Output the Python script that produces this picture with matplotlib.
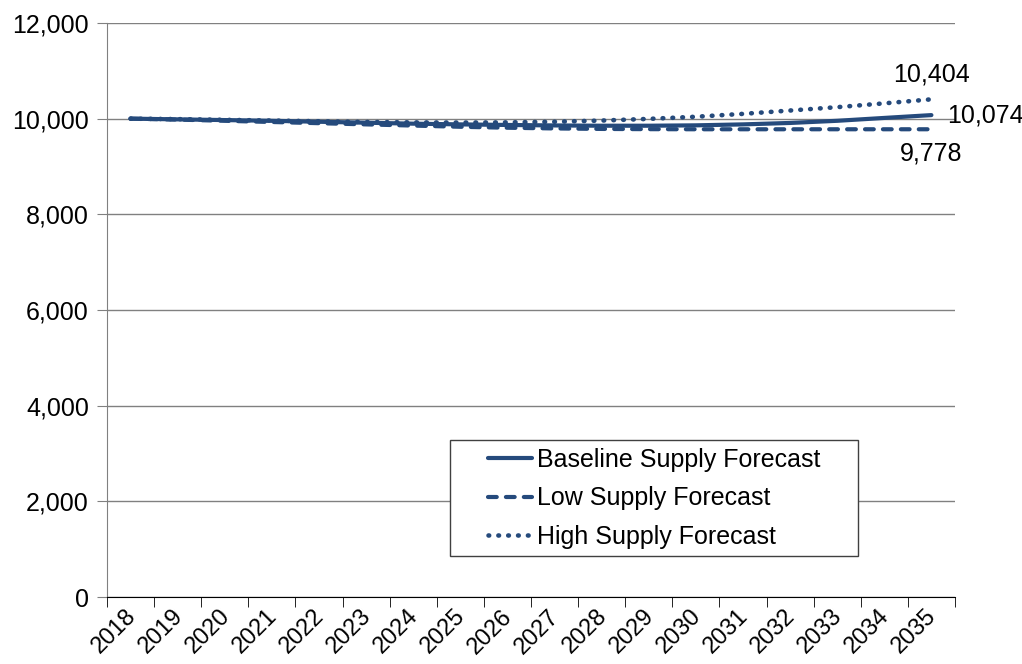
import numpy as np
import matplotlib
matplotlib.use("Agg")
import matplotlib.pyplot as plt
from matplotlib.patches import Rectangle
from matplotlib.transforms import ScaledTranslation
from matplotlib.ticker import FuncFormatter, FixedLocator

plt.rcParams['font.family'] = ['Liberation Sans', 'DejaVu Sans']

years = [str(y) for y in range(2018, 2036)]
baseline = [10000, 9985, 9970, 9955, 9935, 9915, 9895, 9880, 9868, 9858,
            9852, 9852, 9860, 9880, 9910, 9955, 10015, 10074]
low = [10000, 9980, 9955, 9930, 9905, 9880, 9855, 9830, 9810, 9795,
       9785, 9780, 9778, 9778, 9778, 9778, 9778, 9778]
high = [10000, 9990, 9975, 9960, 9945, 9930, 9922, 9918, 9922, 9935,
        9960, 9995, 10040, 10100, 10170, 10240, 10320, 10404]

col = '#254A7C'
fs = 18
x = np.arange(len(years))

fig = plt.figure(figsize=(10.22, 6.64), dpi=100)
ax = fig.add_axes([0.1047, 0.1009, 0.8297, 0.8645])

ax.plot(x, baseline, color=col, lw=3, label='Baseline Supply Forecast', solid_capstyle='round')
ax.plot(x, low, color=col, lw=3, ls=(0, (2.1, 2.2)), dash_capstyle='round',
        label='Low Supply Forecast')
ax.plot(x, high, color=col, lw=3.3, ls=(0, (0.15, 2.0)), dash_capstyle='round',
        label='High Supply Forecast')

ax.set_xlim(-0.5, len(years) - 0.5)
ax.set_ylim(0, 12000)
ax.set_yticks(np.arange(0, 12001, 2000))
ax.yaxis.set_major_formatter(FuncFormatter(lambda v, p: f'{int(v):,}'))
ax.yaxis.grid(True, color='#808080', lw=1)
ax.set_axisbelow(True)

ax.set_xticks(x)
ax.set_xticklabels(years, rotation=45, ha='right', va='top', rotation_mode='anchor')
ax.xaxis.set_minor_locator(FixedLocator(np.arange(-0.5, len(years), 1)))
ax.tick_params(axis='x', which='major', length=0, pad=6, labelsize=17)
ax.tick_params(axis='x', which='minor', length=7, color='black')
ax.tick_params(axis='y', length=7, color='#808080', pad=6, labelsize=fs)
shift = ScaledTranslation(-6 / 100, 0, fig.dpi_scale_trans)
for lbl in ax.get_xticklabels():
    lbl.set_transform(lbl.get_transform() + shift)

for s in ['top', 'right']:
    ax.spines[s].set_visible(False)
ax.spines['left'].set_color('#808080')
ax.spines['bottom'].set_color('black')

ax.annotate(f'{high[-1]:,}', (x[-1], high[-1]), xytext=(0, 9), textcoords='offset points',
            ha='center', va='bottom', fontsize=fs)
ax.annotate(f'{baseline[-1]:,}', (x[-1], baseline[-1]), xytext=(11, 0), textcoords='offset points',
            ha='left', va='center', fontsize=fs)
ax.annotate(f'{low[-1]:,}', (x[-1], low[-1]), xytext=(0, -9), textcoords='offset points',
            ha='center', va='top', fontsize=fs)

# legend box drawn by hand so the handles can sit further in
box = Rectangle((450 / 1022, 1 - 556 / 664), 408 / 1022, 116 / 664,
                transform=fig.transFigure, facecolor='white',
                edgecolor='#404040', lw=1, zorder=4, clip_on=False)
ax.add_patch(box)
leg = ax.legend(loc='upper left', bbox_to_anchor=(488 / 1022, 1 - 448 / 664),
                bbox_transform=fig.transFigure, fontsize=fs, frameon=False,
                handlelength=1.75, borderpad=0, borderaxespad=0,
                labelspacing=0.58, handletextpad=0.2)
leg.set_zorder(6)

fig.savefig('out.png', dpi=100)
